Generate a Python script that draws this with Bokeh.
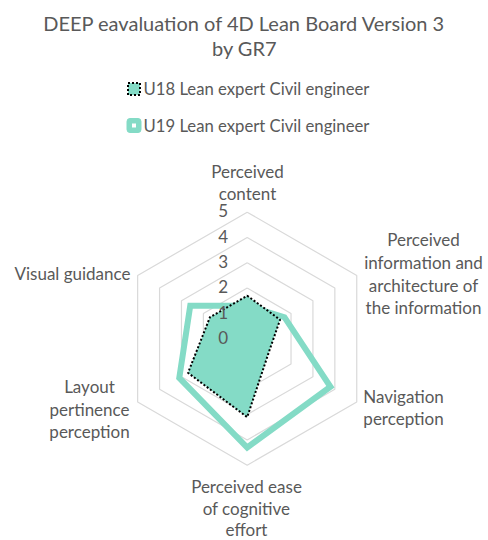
import numpy as np
from bokeh.plotting import figure
from bokeh.models import Range1d
from bokeh.core.properties import value
from bokeh.embed import file_html
from bokeh.resources import INLINE

# ---- data ----
categories = ["Perceived content",
              "Perceived information and architecture of the information",
              "Navigation perception",
              "Perceived ease of cognitive effort",
              "Layout pertinence perception",
              "Visual guidance"]
u18 = [1.7, 1.5, 1.0, 3.1, 2.7, 1.7]
u19 = [1.3, 1.7, 3.8, 4.3, 3.1, 2.6]
ticks = [0, 1, 2, 3, 4, 5]
series_names = ["U18 Lean expert Civil engineer", "U19 Lean expert Civil engineer"]
title_lines = ["DEEP eavaluation of 4D Lean Board Version 3", "by GR7"]

# category label line breaks (layout)
cat_lines = [["Perceived", "content"],
             ["Perceived", "information and", "architecture of", "the information"],
             ["Navigation", "perception"],
             ["Perceived ease", "of cognitive", "effort"],
             ["Layout", "pertinence", "perception"],
             ["Visual guidance"]]

# ---- layout ----
W, H = 488, 540
OX, OY = 0, 0           # page offset of the figure
CX, CY = 246.7, 338.2   # radar centre (page px)
S = 25.3                # px per unit

def P(x, y):
    return ((x - CX) / S, (CY - y) / S)

x0, y_top = P(OX, OY)
x1, y_bot = P(OX + W, OY + H)

p = figure(width=W, height=H, output_backend="svg", toolbar_location=None,
           x_range=Range1d(x0, x1), y_range=Range1d(y_bot, y_top),
           min_border=0, outline_line_color=None)
p.axis.visible = False
p.grid.visible = False
p.background_fill_color = "white"

TEXT = "#595959"
TEAL = "#84DBC6"
FONT = value("Lato")

n = len(categories)
theta = np.arange(n) * 2 * np.pi / n

# rings
for t in ticks[1:]:
    xs = list(t * np.sin(theta))
    ys = list(t * np.cos(theta))
    p.line(xs + [xs[0]], ys + [ys[0]], line_color="#D9D9D9", line_width=1.2)

# U19 thick line
v19 = np.array(u19)
xs19 = list(v19 * np.sin(theta)); ys19 = list(v19 * np.cos(theta))
p.line(xs19 + [xs19[0]], ys19 + [ys19[0]], line_color=TEAL, line_width=6,
       line_join="miter")

# U18 filled with dotted outline
v18 = np.array(u18)
xs18 = list(v18 * np.sin(theta)); ys18 = list(v18 * np.cos(theta))
p.patch(xs18, ys18, fill_color=TEAL, line_color="black", line_width=2,
        line_dash="2 2", fill_alpha=1)

# tick labels
tx = -24 / S
for t in ticks:
    p.text([tx], [t + 0.05], text=[str(t)], text_font=FONT, text_font_size="17px",
           text_color=TEXT, text_align="center", text_baseline="middle")

# category labels (page px positions)
cat_pos = [(247, [171, 193]),
           (423, [239, 262, 284.5, 307]),
           (403, [396, 418]),
           (246, [486, 508, 529]),
           (89, [386, 408.5, 431]),
           (130, [273])]
for (cx, ys), lines in zip(cat_pos, cat_lines):
    align = "right" if len(lines) == 1 else "center"
    for yy, txt in zip(ys, lines):
        px, py = P(cx, yy)
        p.text([px], [py], text=[txt], text_font=FONT, text_font_size="17px",
               text_color=TEXT, text_align=align, text_baseline="middle")

# title
for yy, txt in zip([22, 47], title_lines):
    px, py = P(244, yy)
    p.text([px], [py], text=[txt], text_font=FONT, text_font_size="20px",
           text_color=TEXT, text_align="center", text_baseline="middle")

# legend
leg_y = [88.5, 125]
for i, (yy, name) in enumerate(zip(leg_y, series_names)):
    mx, my = P(133.5, yy)
    if i == 0:
        p.rect([mx], [my], width=12 / S, height=12 / S, fill_color=TEAL,
               line_color="black", line_width=2, line_dash="2 2")
    else:
        p.rect([mx], [my], width=14 / S, height=14 / S, fill_color=TEAL,
               line_color=TEAL, line_width=1, border_radius=3)
        p.rect([mx], [my], width=4 / S, height=4 / S, fill_color="white",
               line_color=None)
    lx, ly = P(143, yy)
    p.text([lx], [ly], text=[name], text_font=FONT, text_font_size="16.7px",
           text_color=TEXT, text_align="left", text_baseline="middle")

open("out.html", "w").write(file_html(p, INLINE))
